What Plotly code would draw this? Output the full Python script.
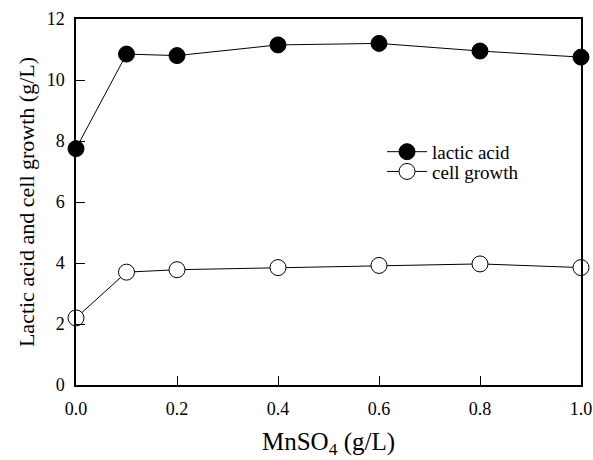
import plotly.graph_objects as go

mnso4 = [0.0, 0.1, 0.2, 0.4, 0.6, 0.8, 1.0]
lactic_acid = [7.75, 10.85, 10.8, 11.15, 11.2, 10.95, 10.75]
cell_growth = [2.2, 3.7, 3.78, 3.85, 3.92, 3.97, 3.85]
x_ticks = [0.0, 0.2, 0.4, 0.6, 0.8, 1.0]
y_ticks = [0, 2, 4, 6, 8, 10, 12]

font_family = "Liberation Serif, Times New Roman, serif"

fig = go.Figure()
fig.add_trace(go.Scatter(
    x=mnso4, y=lactic_acid, mode="lines+markers", name="lactic acid",
    line=dict(color="black", width=1),
    marker=dict(size=16, color="black", line=dict(color="black", width=1)),
    cliponaxis=False, legend="legend",
))
fig.add_trace(go.Scatter(
    x=mnso4, y=cell_growth, mode="lines+markers", name="cell growth",
    line=dict(color="black", width=1),
    marker=dict(size=16, color="white", line=dict(color="black", width=1)),
    cliponaxis=False, legend="legend2",
))

legend_style = dict(xanchor="left", yanchor="top", bgcolor="rgba(0,0,0,0)",
                    font=dict(size=19), itemwidth=40)

fig.update_layout(
    width=593, height=460,
    margin=dict(l=76, r=12, t=19, b=75, autoexpand=False),
    paper_bgcolor="white", plot_bgcolor="white",
    font=dict(family=font_family, color="black", size=18),
    showlegend=True,
    legend=dict(x=0.606, y=0.689, **legend_style),
    legend2=dict(x=0.606, y=0.635, **legend_style),
)
fig.update_xaxes(
    range=[0, 1], tickvals=x_ticks, ticktext=[f"{v:.1f}" for v in x_ticks],
    ticks="inside", ticklen=9, tickcolor="black", showline=True, linecolor="black",
    linewidth=1.5, mirror=True, showgrid=False, zeroline=False, automargin=False,
    title=dict(text="MnSO<sub>4</sub> (g/L)", font=dict(size=25), standoff=14),
    tickfont=dict(size=18), ticklabelstandoff=7,
)
fig.update_yaxes(
    range=[0, 12], tickvals=y_ticks,
    ticks="inside", ticklen=9, tickcolor="black", showline=True, linecolor="black",
    linewidth=1.5, mirror=True, showgrid=False, zeroline=False, automargin=False,
    title=dict(text="Lactic acid and cell growth (g/L)", font=dict(size=22), standoff=6),
    tickfont=dict(size=18), ticklabelstandoff=6,
)

fig.write_html(
    "out.html",
    config={"displayModeBar": False},
    post_script="document.body.style.margin='0';document.body.style.overflow='hidden';",
)
